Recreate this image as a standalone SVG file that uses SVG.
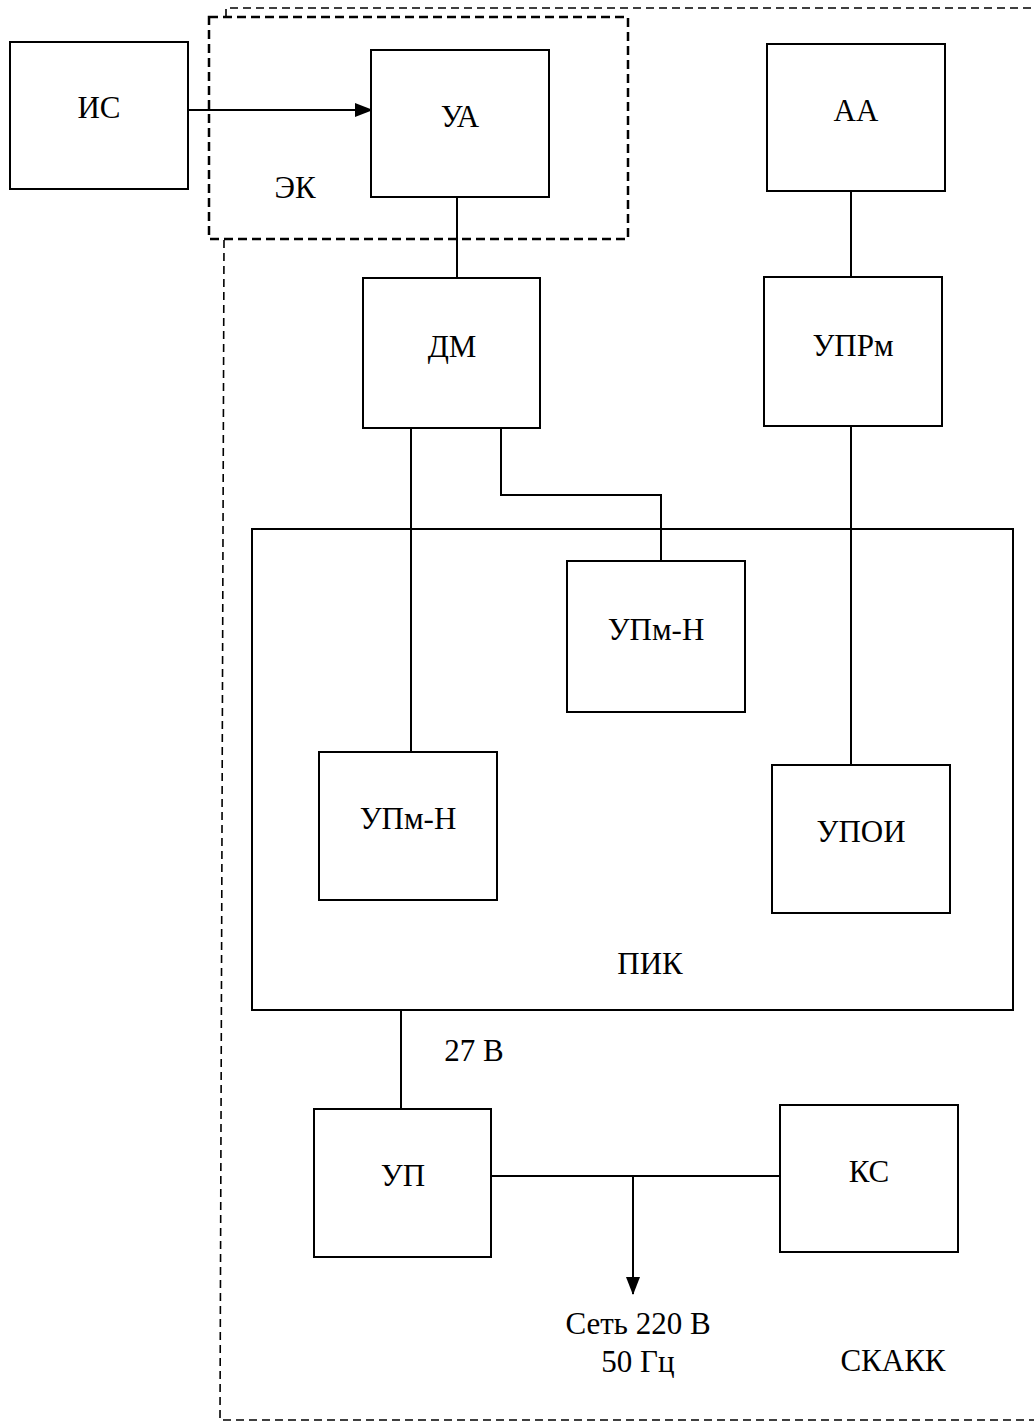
<svg xmlns="http://www.w3.org/2000/svg" width="1034" height="1423" viewBox="0 0 1034 1423">
<defs>
<style>
.b{fill:#fff;stroke:#000;stroke-width:2}
.c{fill:none;stroke:#000;stroke-width:2}
.t{font-family:"Liberation Serif","Times New Roman",serif;font-size:31px;fill:#000;text-anchor:middle;dominant-baseline:central}
.d1{fill:none;stroke:#000;stroke-width:2.5;stroke-dasharray:9 5}
.d2{fill:none;stroke:#000;stroke-width:1.6;stroke-dasharray:8 5}
</style>
<marker id="ah" markerWidth="18" markerHeight="14" refX="17" refY="7" orient="auto" markerUnits="userSpaceOnUse">
<path d="M0,0 L18,7 L0,14 Z" fill="#000"/>
</marker>
</defs>
<rect width="1034" height="1423" fill="#fff"/>
<g id="skakk">
<path class="d2" d="M226,17 L226,8 L1034,8"/>
<path class="d2" d="M224,240 L220,1420 L1034,1420"/>
<text class="t" x="893" y="1360">СКАКК</text>
</g>
<g id="ek">
<rect class="d1" x="209" y="17" width="419" height="222"/>
<text class="t" x="295" y="187">ЭК</text>
</g>
<g id="pik">
<rect class="b" x="252" y="529" width="761" height="481"/>
<text class="t" x="650" y="963">ПИК</text>
</g>
<g id="connectors">
<line class="c" x1="188" y1="110" x2="372" y2="110" marker-end="url(#ah)"/>
<line class="c" x1="457" y1="197" x2="457" y2="278"/>
<line class="c" x1="851" y1="191" x2="851" y2="277"/>
<line class="c" x1="411" y1="428" x2="411" y2="752"/>
<polyline class="c" points="501,428 501,495 661,495 661,561"/>
<line class="c" x1="851" y1="426" x2="851" y2="765"/>
<line class="c" x1="401" y1="1010" x2="401" y2="1109"/>
<line class="c" x1="491" y1="1176" x2="780" y2="1176"/>
<line class="c" x1="633" y1="1176" x2="633" y2="1294" marker-end="url(#ah)"/>
<text class="t" x="474" y="1050">27 В</text>
<text class="t" x="638" y="1323">Сеть 220 В</text>
<text class="t" x="638" y="1361">50 Гц</text>
</g>
<g id="is"><rect class="b" x="10" y="42" width="178" height="147"/><text class="t" x="99" y="107">ИС</text></g>
<g id="ua"><rect class="b" x="371" y="50" width="178" height="147"/><text class="t" x="460" y="116">УА</text></g>
<g id="aa"><rect class="b" x="767" y="44" width="178" height="147"/><text class="t" x="856" y="110">АА</text></g>
<g id="dm"><rect class="b" x="363" y="278" width="177" height="150"/><text class="t" x="452" y="346">ДМ</text></g>
<g id="uprm"><rect class="b" x="764" y="277" width="178" height="149"/><text class="t" x="853" y="345">УПРм</text></g>
<g id="upmn1"><rect class="b" x="567" y="561" width="178" height="151"/><text class="t" x="656" y="629">УПм-Н</text></g>
<g id="upmn2"><rect class="b" x="319" y="752" width="178" height="148"/><text class="t" x="408" y="818">УПм-Н</text></g>
<g id="upoi"><rect class="b" x="772" y="765" width="178" height="148"/><text class="t" x="861" y="831">УПОИ</text></g>
<g id="up"><rect class="b" x="314" y="1109" width="177" height="148"/><text class="t" x="403" y="1175">УП</text></g>
<g id="ks"><rect class="b" x="780" y="1105" width="178" height="147"/><text class="t" x="869" y="1171">КС</text></g>
</svg>
